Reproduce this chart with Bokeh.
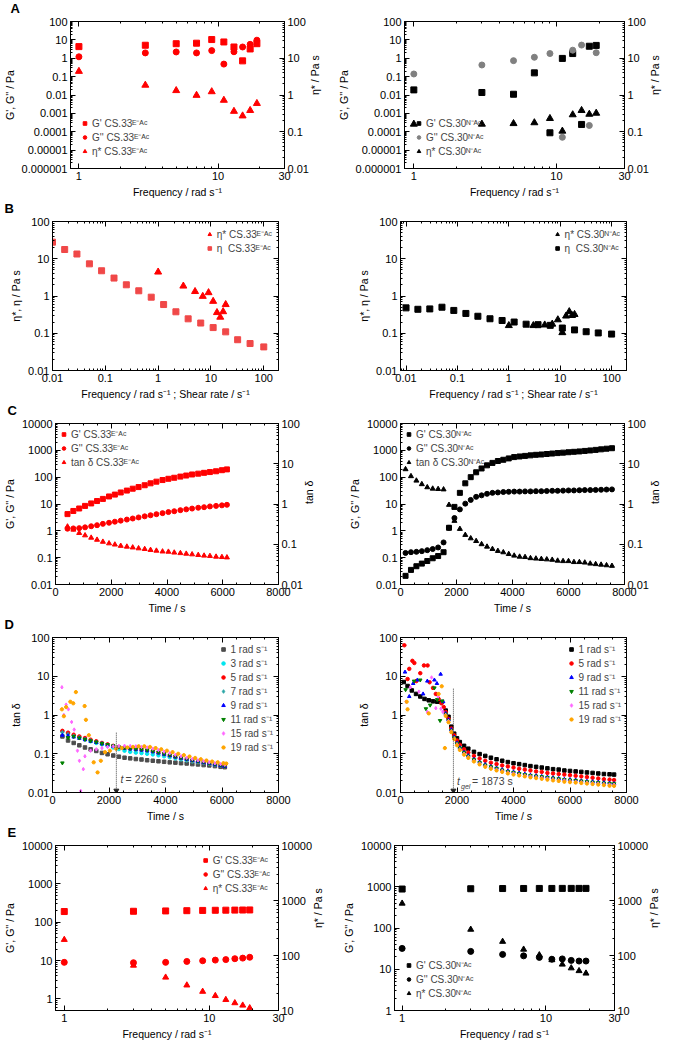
import math
from bokeh.plotting import figure
from bokeh.models import (Range1d, LogScale, LogAxis, LinearAxis, FixedTicker,
                          CustomJSTickFormatter, Legend, LegendItem, Label)
from bokeh.layouts import row, column
from bokeh.embed import file_html
from bokeh.resources import INLINE

try:
    from bokeh.models import CustomLabelingPolicy
    HIDE_POLICY = True
except ImportError:
    HIDE_POLICY = False

FONT = "Liberation Sans"
SUP33 = "ᴱ⁻ᴬᶜ"
SUP30 = "ᴺ⁻ᴬᶜ"

# ---------------- data ----------------
freq = [1, 3, 5, 7, 9, 11, 13, 15, 17, 19]

# A
G1_A33 = [4.3, 5.1, 6.2, 6.6, 10.4, 7.7, 4.1, 0.72, 3.2, 6.2]
G2_A33 = [1.2, 1.95, 2.2, 1.95, 2.6, 0.48, 2.26, 4.1, 5.7, 9.6]
eta_33 = [4.4, 1.85, 1.32, 0.98, 1.23, 0.72, 0.36, 0.27, 0.38, 0.59]
G1_A30 = [0.019, 0.0137, 0.011, 0.16, 8.8e-5, 0.98, 1.8, 2.5e-4, 4.5, 5.0]
G2_A30 = [0.139, 0.43, 0.74, 1.13, 1.8, 5e-5, 2.75, 5.2, 2.2e-4, 2.0]
eta_30 = [0.161, 0.161, 0.167, 0.176, 0.23, 0.104, 0.29, 0.38, 0.30, 0.32]

# B
shear = [0.01, 0.017, 0.029, 0.05, 0.085, 0.146, 0.25, 0.43, 0.74, 1.27, 2.17,
         3.7, 6.4, 11, 19, 32, 55, 100]
eta_shear_33 = [27.9, 17.7, 13.4, 7.3, 4.76, 3.03, 2.0, 1.38, 0.93, 0.59, 0.377,
                0.244, 0.188, 0.142, 0.109, 0.067, 0.053, 0.043]
eta_shear_30 = [0.48, 0.44, 0.45, 0.50, 0.41, 0.34, 0.286, 0.245, 0.22, 0.20,
                0.175, 0.17, 0.163, 0.138, 0.123, 0.11, 0.102, 0.095]

# C
t_C33 = [430, 640, 850, 1060, 1280, 1490, 1700, 1920, 2130, 2340, 2560, 2770,
         2980, 3200, 3410, 3620, 3840, 4050, 4260, 4480, 4690, 4900, 5120, 5330,
         5540, 5760, 5970, 6150]
G1_C33 = [4.2, 5.5, 6.8, 8.5, 10.5, 12.9, 15.5, 19.1, 22.4, 26.9, 31.6, 37.2,
          42.7, 50, 59, 68, 78, 87, 95, 105, 115, 126, 135, 145, 155, 166, 182, 195]
G2_C33 = [1.2, 1.23, 1.26, 1.35, 1.48, 1.62, 1.82, 2.0, 2.19, 2.4, 2.63, 2.88,
          3.16, 3.47, 3.8, 4.17, 4.57, 5.0, 5.37, 5.89, 6.31, 6.76, 7.24, 7.59,
          8.13, 8.51, 8.91, 9.33]
tan_C33 = [0.275, 0.23, 0.19, 0.166, 0.145, 0.129, 0.115, 0.105, 0.098, 0.091,
           0.087, 0.083, 0.079, 0.076, 0.072, 0.069, 0.066, 0.065, 0.062, 0.060,
           0.058, 0.056, 0.054, 0.052, 0.051, 0.049, 0.048, 0.047]

t_C30 = [180, 374, 568, 762, 956, 1150, 1344, 1538, 1732, 1926, 2120, 2314, 2508,
         2702, 2896, 3090, 3284, 3478, 3672, 3866, 4060, 4254, 4448, 4642, 4836,
         5030, 5224, 5418, 5612, 5806, 6000, 6194, 6388, 6582, 6776, 6970, 7164,
         7358, 7552]
G1_C30 = [0.021, 0.035, 0.048, 0.06, 0.075, 0.095, 0.115, 0.16,
          1.3, 7.8, 26, 59, 100, 152, 211, 276, 340, 400, 445, 500, 560,
          590, 620, 650, 680, 700, 730, 760, 790, 820, 850, 880, 910, 950, 990,
          1040, 1090, 1150, 1200]
G2_C30 = [0.15, 0.16, 0.165, 0.175, 0.19, 0.21, 0.24, 0.37,
          1.3, 3.0, 6.3, 10.3, 14.2, 18.5, 21, 24, 26, 27, 28, 28.5, 29,
          29, 29.5, 29.5, 30, 30, 30.5, 31, 31, 31.5, 32, 32, 32.5, 33, 33,
          33.5, 34, 34.5, 35]
tan_C30 = [7.3, 4.9, 3.8, 3.1, 2.6, 2.4, 2.35, 2.3,
           0.95, 0.38, 0.24, 0.17, 0.14, 0.12, 0.1, 0.087, 0.076, 0.068, 0.063,
           0.057, 0.052,
           0.049, 0.048, 0.045, 0.044, 0.043, 0.042, 0.041, 0.039, 0.038, 0.038,
           0.036, 0.036, 0.035, 0.033, 0.032, 0.031, 0.030, 0.029]

# D (CS.33)
t_D33 = [350, 550, 750, 950, 1150, 1350, 1550, 1750, 1950, 2150, 2350, 2550,
         2750, 2950, 3150, 3350, 3550, 3750, 3950, 4150, 4350, 4550, 4750, 4950,
         5150, 5350, 5550, 5750, 5950, 6100]
tan_D33_1 = [0.28, 0.22, 0.19, 0.165, 0.145, 0.13, 0.118, 0.105, 0.097, 0.09,
             0.084, 0.079, 0.076, 0.073, 0.071, 0.068, 0.066, 0.064, 0.062, 0.060,
             0.059, 0.057, 0.056, 0.054, 0.053, 0.051, 0.050, 0.048, 0.046, 0.045]
tan_D33_3 = [0.37, 0.33, 0.29, 0.26, 0.235, 0.21, 0.19, 0.175, 0.16, 0.145,
             0.132, 0.12, 0.112, 0.107, 0.104, 0.1, 0.096, 0.091, 0.086, 0.081,
             0.076, 0.072, 0.068, 0.064, 0.061, 0.058, 0.055, 0.052, 0.05, 0.049]
tan_D33_5 = [0.39, 0.35, 0.31, 0.28, 0.255, 0.23, 0.21, 0.19, 0.175, 0.16,
             0.15, 0.142, 0.136, 0.132, 0.128, 0.124, 0.116, 0.107, 0.098, 0.09,
             0.083, 0.077, 0.072, 0.067, 0.063, 0.059, 0.056, 0.053, 0.05, 0.048]
tan_D33_7 = [0.36, 0.32, 0.29, 0.265, 0.24, 0.22, 0.2, 0.185, 0.17, 0.157,
             0.147, 0.14, 0.134, 0.13, 0.126, 0.12, 0.112, 0.104, 0.096, 0.089,
             0.082, 0.076, 0.071, 0.066, 0.062, 0.058, 0.055, 0.052, 0.049, 0.047]
tan_D33_9 = [0.3, 0.29, 0.27, 0.25, 0.23, 0.21, 0.195, 0.18, 0.168, 0.156,
             0.146, 0.139, 0.133, 0.128, 0.124, 0.119, 0.113, 0.105, 0.097, 0.09,
             0.083, 0.077, 0.072, 0.067, 0.063, 0.059, 0.056, 0.052, 0.049, 0.047]
tan_D33_11 = [0.058, 0.26, 0.28, 0.255, 0.235, 0.215, 0.2, 0.185, 0.172, 0.16,
              0.15, 0.143, 0.138, 0.134, 0.13, 0.125, 0.118, 0.11, 0.101, 0.093,
              0.086, 0.08, 0.074, 0.069, 0.065, 0.061, 0.057, 0.054, 0.051, 0.049]
t_D33_15 = [333, 402, 482, 563, 677, 769, 884, 953, 999, 1091, 1148, 1350, 1550,
            1750, 1950, 2150, 2350, 2550, 2750, 2950, 3150, 3350, 3550, 3750,
            3950, 4150, 4350, 4550, 4750, 4950, 5150, 5350, 5550, 5750, 5950, 6100]
tan_D33_15 = [5.2, 1.0, 1.85, 1.4, 0.66, 0.42, 0.12, 0.066, 0.011, 0.04, 0.086,
              0.12, 0.13, 0.14, 0.15, 0.155, 0.158, 0.16, 0.158, 0.155, 0.15,
              0.145, 0.135, 0.125, 0.113, 0.103, 0.094, 0.086, 0.079, 0.073,
              0.068, 0.064, 0.06, 0.057, 0.054, 0.052]
t_D33_19 = [333, 402, 482, 631, 735, 827, 1137, 1183, 1286, 1458, 1596, 1711,
            1860, 2032, 2250, 2450, 2650, 2850, 3050, 3250, 3450, 3650, 3850,
            4050, 4250, 4450, 4650, 4850, 5050, 5250, 5450, 5650, 5850, 6050, 6150]
tan_D33_19 = [1.4, 0.93, 1.6, 2.2, 2.0, 3.9, 1.7, 0.75, 0.3, 0.06, 0.033, 0.066,
              0.11, 0.12, 0.135, 0.14, 0.145, 0.15, 0.155, 0.155, 0.15, 0.14,
              0.13, 0.12, 0.11, 0.1, 0.092, 0.085, 0.078, 0.072, 0.067, 0.063,
              0.06, 0.057, 0.056]
t_gel_33 = 2260

# D (CS.30)
t_D30_late = [1600, 1700, 1800, 1900, 2000, 2100, 2250, 2400, 2600, 2800, 3000,
              3200, 3400, 3600, 3800, 4000, 4200, 4400, 4600, 4800, 5000, 5200,
              5400, 5600, 5800, 6000, 6200, 6400, 6600, 6800, 7000, 7200, 7400, 7560]
t_D30_1_early = [115, 250, 400, 550, 700, 850, 1000, 1150, 1300, 1450]
tan_D30_1_early = [7.1, 5.6, 4.3, 3.5, 3.0, 2.6, 2.4, 2.25, 2.2, 2.15]
tan_D30_1_late = [1.3, 0.9, 0.5, 0.33, 0.25, 0.2, 0.16, 0.135, 0.112, 0.098,
                  0.088, 0.079, 0.072, 0.066, 0.061, 0.057, 0.054, 0.051, 0.048,
                  0.046, 0.044, 0.042, 0.040, 0.039, 0.037, 0.036, 0.035, 0.034,
                  0.033, 0.032, 0.031, 0.030, 0.0295, 0.029]
t_D30_5_early = [137, 250, 310, 420, 490, 560, 700, 830, 960, 1030, 1150, 1250,
                 1350, 1450, 1530]
tan_D30_5_early = [63, 8.5, 15.5, 25, 22, 7.5, 12, 19, 19, 7.0, 5.0, 3.5, 2.6,
                   2.0, 1.6]
tan_D30_5_late = [1.2, 0.8, 0.45, 0.3, 0.22, 0.17, 0.13, 0.108, 0.088, 0.075,
                  0.066, 0.059, 0.054, 0.05, 0.047, 0.044, 0.041, 0.039, 0.037,
                  0.035, 0.034, 0.032, 0.031, 0.03, 0.029, 0.028, 0.027, 0.026,
                  0.025, 0.024, 0.023, 0.022, 0.0215, 0.021]
t_D30_9_early = [160, 310, 450, 600, 800, 950, 1200, 1290, 1420, 1510]
tan_D30_9_early = [12.8, 3.0, 6.5, 8.0, 3.5, 7.5, 8.0, 6.5, 11.3, 2.2]
tan_D30_9_late = [1.1, 0.75, 0.42, 0.27, 0.19, 0.145, 0.11, 0.09, 0.072, 0.061,
                  0.053, 0.047, 0.043, 0.039, 0.036, 0.034, 0.032, 0.030, 0.028,
                  0.027, 0.026, 0.025, 0.024, 0.023, 0.022, 0.0215, 0.021, 0.020,
                  0.0195, 0.019, 0.0185, 0.018, 0.0175, 0.017]
t_D30_11_early = [180, 480, 700, 900, 1050, 1200, 1300, 1400, 1480]
tan_D30_11_early = [4.5, 7.5, 8.0, 1.45, 1.8, 5.0, 2.5, 0.72, 2.3]
tan_D30_11_late = [1.05, 0.72, 0.4, 0.26, 0.185, 0.14, 0.106, 0.087, 0.07, 0.059,
                   0.051, 0.046, 0.042, 0.038, 0.035, 0.033, 0.031, 0.029, 0.0275,
                   0.0265, 0.0255, 0.0245, 0.0235, 0.0225, 0.0215, 0.021, 0.0205,
                   0.0198, 0.019, 0.0185, 0.018, 0.0175, 0.017, 0.0168]
t_D30_15_early = [200, 350, 650, 950, 1100, 1250, 1330, 1430, 1500]
tan_D30_15_early = [2.2, 5.2, 4.0, 1.2, 9.3, 1.5, 3.0, 1.45, 1.2]
tan_D30_15_late = [1.0, 0.7, 0.38, 0.25, 0.175, 0.13, 0.1, 0.082, 0.066, 0.056,
                   0.048, 0.043, 0.039, 0.036, 0.033, 0.031, 0.029, 0.0275, 0.026,
                   0.025, 0.024, 0.023, 0.022, 0.021, 0.0205, 0.0198, 0.019,
                   0.0185, 0.018, 0.0175, 0.017, 0.0165, 0.016, 0.0158]
t_D30_19_early = [220, 250, 1000, 1350, 1460, 1570]
tan_D30_19_early = [2.2, 1.4, 1.1, 3.5, 5.5, 0.14]
tan_D30_19_late = [0.95, 0.65, 0.36, 0.24, 0.165, 0.125, 0.095, 0.078, 0.063,
                   0.053, 0.046, 0.041, 0.037, 0.034, 0.031, 0.029, 0.0275, 0.026,
                   0.0245, 0.0235, 0.0225, 0.0215, 0.0205, 0.0198, 0.019, 0.0185,
                   0.018, 0.0175, 0.017, 0.0165, 0.016, 0.0155, 0.015, 0.0148]
t_gel_30 = 1873

# E
G1_E33 = [190, 193, 197, 200, 203, 205, 206, 207, 208, 209]
G2_E33 = [9.0, 8.8, 9.0, 9.5, 9.9, 10.3, 10.6, 11.2, 11.6, 12.2]
eta_E33 = [194, 66, 40, 28.8, 22.1, 18.5, 15.7, 13.7, 12.4, 11.1]
G1_E30 = [880, 895, 905, 908, 910, 910, 912, 912, 912, 912]
G2_E30 = [32, 27.1, 22.9, 21.1, 19.4, 17.5, 17.8, 16.4, 15.8, 15.8]
eta_E30 = [885, 297, 179, 129, 102, 83, 69, 59, 52.5, 47.4]

RED = "#ff0000"
BLACK = "#000000"
GREY = "#808080"


# ---------------- helpers ----------------
def log_fmt():
    return CustomJSTickFormatter(code="""
        if (tick >= 1) { return String(Math.round(tick)); }
        return String(Number(tick.toPrecision(1)));
    """)


def decade_ticker(lo, hi):
    major = [10.0 ** k for k in range(lo, hi + 1)]
    minor = [m * 10.0 ** k for k in range(lo - 1, hi + 1) for m in range(2, 10)]
    return FixedTicker(ticks=major, minor_ticks=minor)


def freq_ticker():
    return FixedTicker(ticks=[1, 10, 30], minor_ticks=[2, 3, 4, 5, 6, 7, 8, 9, 20])


def time_ticker():
    return FixedTicker(ticks=[0, 2000, 4000, 6000, 8000],
                       minor_ticks=list(range(0, 8001, 500)))


def style_axis(ax):
    ax.axis_line_color = "black"
    ax.major_tick_line_color = "black"
    ax.minor_tick_line_color = "black"
    ax.major_tick_in = 5
    ax.major_tick_out = 0
    ax.minor_tick_in = 2
    ax.minor_tick_out = 0
    ax.major_label_text_font = FONT
    ax.major_label_text_font_size = "11px"
    ax.major_label_text_color = "black"
    ax.axis_label_text_font = FONT
    ax.axis_label_text_font_size = "10.5px"
    ax.axis_label_text_font_style = "normal"
    ax.axis_label_text_color = "black"
    ax.major_label_standoff = 3
    ax.axis_label_standoff = 3


def mirror_axis(p, side, log, ticker):
    """Tick-only axis on the top/right edge (labels suppressed)."""
    if not HIDE_POLICY:
        return
    ax = (LogAxis if log else LinearAxis)(ticker=ticker)
    if log:
        ax.formatter = log_fmt()
    style_axis(ax)
    ax.major_label_text_font_size = "1px"
    ax.major_label_standoff = 0
    ax.major_label_policy = CustomLabelingPolicy(code="return new Set()")
    p.add_layout(ax, side)


def make_panel(w, h, borders, xr, yr, xlog, ylog, xtk, ytk, xlabel, ylabel, right=None):
    p = figure(width=w, height=h, x_range=Range1d(*xr), y_range=Range1d(*yr),
               x_axis_type="log" if xlog else "linear",
               y_axis_type="log" if ylog else "linear",
               output_backend="svg", toolbar_location=None,
               min_border_left=borders[0], min_border_right=borders[1],
               min_border_top=borders[2], min_border_bottom=borders[3])
    p.xgrid.visible = False
    p.ygrid.visible = False
    p.outline_line_color = "black"
    p.background_fill_color = "white"
    p.border_fill_color = "white"
    xa = p.xaxis[0]
    ya = p.yaxis[0]
    xa.ticker = xtk
    ya.ticker = ytk
    if xlog:
        xa.formatter = log_fmt()
    if ylog:
        ya.formatter = log_fmt()
    style_axis(xa)
    style_axis(ya)
    xa.axis_label = xlabel
    ya.axis_label = ylabel
    mirror_axis(p, "above", xlog, xtk)
    if right is not None:
        rr, rtk, rlabel = right
        p.extra_y_ranges = {"r": Range1d(*rr)}
        p.extra_y_scales = {"r": LogScale()}
        ra = LogAxis(y_range_name="r", ticker=rtk, formatter=log_fmt())
        style_axis(ra)
        ra.axis_label = rlabel
        if "axis_label_orientation" in ra.properties():
            ra.axis_label_orientation = math.pi / 2
        p.add_layout(ra, "right")
    else:
        mirror_axis(p, "right", ylog, ytk)
    return p


def add_legend(p, items, loc, margin=6, size="10px", height=10):
    leg = Legend(items=[LegendItem(label=l, renderers=[r]) for l, r in items],
                 location=loc)
    leg.border_line_color = None
    leg.background_fill_alpha = 0
    leg.label_text_font = FONT
    leg.label_text_font_size = size
    leg.label_height = height
    leg.glyph_height = height
    leg.glyph_width = 9
    leg.spacing = 0
    leg.padding = 2
    leg.margin = margin
    leg.label_standoff = 3
    p.add_layout(leg)


def add_letter(p, text, frame_left):
    p.title.text = text
    p.title.align = "left"
    p.title.offset = -(frame_left - 4)
    p.title.standoff = 0
    p.title.vertical_align = "top"
    p.title.text_font = FONT
    p.title.text_font_size = "13px"
    p.title.text_font_style = "bold"
    p.title.text_color = "black"


WL, WR = 334, 335
BL_L, BR_L = 52, 56
BL_R, BR_R = 66, 43
FREQ_X = (0.87, 30)
FREQ_LABEL = "Frequency / rad s⁻¹"

# ---------------- row A ----------------
hA, btA, bbA = 200, 17, 30
pA1 = make_panel(WL, hA, (64, 50, btA, bbA), FREQ_X, (1e-6, 100), True, True,
                 freq_ticker(), decade_ticker(-6, 2), FREQ_LABEL, "G', G'' / Pa",
                 right=((0.01, 100), decade_ticker(-2, 2), "η* / Pa s"))
r1 = pA1.scatter(freq, G1_A33, marker="square", size=6, color=RED)
r2 = pA1.scatter(freq, G2_A33, marker="circle", size=6, color=RED)
r3 = pA1.scatter(freq, eta_33, marker="triangle", size=7, color=RED, y_range_name="r")
add_legend(pA1, [("G' CS.33" + SUP33, r1), ("G'' CS.33" + SUP33, r2),
                 ("η* CS.33" + SUP33, r3)], "bottom_left", margin=10)
add_letter(pA1, "A", 64)

pA2 = make_panel(WR, hA, (BL_R, BR_R, btA, bbA), (0.86, 30), (1e-6, 100), True, True,
                 freq_ticker(), decade_ticker(-6, 2), FREQ_LABEL, "G', G'' / Pa",
                 right=((0.01, 100), decade_ticker(-2, 2), "η* / Pa s"))
s1 = pA2.scatter(freq, G1_A30, marker="square", size=6, color=BLACK)
s2 = pA2.scatter(freq, G2_A30, marker="circle", size=6, color=GREY)
s3 = pA2.scatter(freq, eta_30, marker="triangle", size=7, color=BLACK, y_range_name="r")
add_legend(pA2, [("G' CS.30" + SUP30, s1), ("G'' CS.30" + SUP30, s2),
                 ("η* CS.30" + SUP30, s3)], "bottom_left", margin=10)

# ---------------- row B ----------------
hB, btB, bbB = 202, 17, 30
B_LABEL = "Frequency / rad s⁻¹ ; Shear rate / s⁻¹"
pB1 = make_panel(WL, hB, (BL_L, BR_L, btB, bbB), (0.01, 190), (0.01, 100), True, True,
                 decade_ticker(-2, 2), decade_ticker(-2, 2), B_LABEL, "η*, η / Pa s")
b1 = pB1.scatter(freq, eta_33, marker="triangle", size=7, color=RED)
b2 = pB1.scatter(shear, eta_shear_33, marker="square", size=6, color="#f04848")
add_legend(pB1, [("η* CS.33" + SUP33, b1), ("η  CS.33" + SUP33, b2)], "top_right", margin=6)
add_letter(pB1, "B", BL_L)

pB2 = make_panel(WR, hB, (BL_R, BR_R, btB, bbB), (0.0078, 195), (0.01, 100), True, True,
                 decade_ticker(-2, 2), decade_ticker(-2, 2), B_LABEL, "η*, η / Pa s")
c1 = pB2.scatter(freq, eta_30, marker="triangle", size=7, color=BLACK)
c2 = pB2.scatter(shear, eta_shear_30, marker="square", size=6, color=BLACK)
add_legend(pB2, [("η* CS.30" + SUP30, c1), ("η  CS.30" + SUP30, c2)], "top_right", margin=6)

# ---------------- row C ----------------
hC, btC, bbC = 214, 19, 28
pC1 = make_panel(WL, hC, (BL_L, BR_L, btC, bbC), (0, 8000), (0.01, 10000), False, True,
                 time_ticker(), decade_ticker(-2, 4), "Time / s", "G', G'' / Pa",
                 right=((0.01, 100), decade_ticker(-2, 2), "tan δ"))
d1 = pC1.scatter(t_C33, G1_C33, marker="square", size=5, color=RED)
d2 = pC1.scatter(t_C33, G2_C33, marker="circle", size=5, color=RED)
d3 = pC1.scatter(t_C33, tan_C33, marker="triangle", size=5, color=RED, y_range_name="r")
add_legend(pC1, [("G' CS.33" + SUP33, d1), ("G'' CS.33" + SUP33, d2),
                 ("tan δ CS.33" + SUP33, d3)], "top_left", margin=4)
add_letter(pC1, "C", BL_L)

pC2 = make_panel(WR, hC, (BL_R, BR_R, btC, bbC), (0, 8000), (0.01, 10000), False, True,
                 time_ticker(), decade_ticker(-2, 4), "Time / s", "G', G'' / Pa",
                 right=((0.01, 100), decade_ticker(-2, 2), "tan δ"))
e1 = pC2.scatter(t_C30, G1_C30, marker="square", size=5, color=BLACK)
e2 = pC2.scatter(t_C30, G2_C30, marker="circle", size=5, color=BLACK)
e3 = pC2.scatter(t_C30, tan_C30, marker="triangle", size=5, color=BLACK, y_range_name="r")
add_legend(pC2, [("G' CS.30" + SUP30, e1), ("G'' CS.30" + SUP30, e2),
                 ("tan δ CS.30" + SUP30, e3)], "top_left", margin=4)

# ---------------- row D ----------------
hD, btD, bbD = 208, 17, 30
SZ = 3.5
pD1 = make_panel(WL, hD, (BL_L, BR_L, btD, bbD), (0, 8000), (0.01, 100), False, True,
                 time_ticker(), decade_ticker(-2, 2), "Time / s", "tan δ")
D33 = [
    ("1 rad s⁻¹", t_D33, tan_D33_1, "square", "#4d4d4d"),
    ("3 rad s⁻¹", t_D33, tan_D33_3, "circle", "#00e5ee"),
    ("5 rad s⁻¹", t_D33, tan_D33_5, "circle", "#ff0000"),
    ("7 rad s⁻¹", t_D33, tan_D33_7, "diamond", "#2aa6a6"),
    ("9 rad s⁻¹", t_D33, tan_D33_9, "triangle", "#0000ff"),
    ("11 rad s⁻¹", t_D33, tan_D33_11, "inverted_triangle", "#008000"),
    ("15 rad s⁻¹", t_D33_15, tan_D33_15, "diamond", "#ff66ff"),
    ("19 rad s⁻¹", t_D33_19, tan_D33_19, "hex", "#ffa500"),
]
items = []
for lab, tx, ty, mk, col in D33:
    rr = pD1.scatter(tx, ty, marker=mk, size=SZ, color=col)
    items.append((lab, rr))
add_legend(pD1, items, "top_right", margin=5, size="10px", height=10)
pD1.segment(x0=[t_gel_33], y0=[0.0105], x1=[t_gel_33], y1=[0.36],
            line_color="#444444", line_dash="1 1", line_width=1)
pD1.scatter([t_gel_33], [0.0112], marker="inverted_triangle", size=5, color="#222222")
pD1.add_layout(Label(x=t_gel_33 + 150, y=0.016, text="t", text_font=FONT,
                     text_font_style="italic", text_font_size="10.5px"))
pD1.add_layout(Label(x=t_gel_33 + 150, y=0.016, x_offset=5, text=" = 2260 s",
                     text_font=FONT, text_font_size="10.5px"))
add_letter(pD1, "D", BL_L)

pD2 = make_panel(WR, hD, (BL_R, BR_R, btD, bbD), (0, 8000), (0.01, 100), False, True,
                 time_ticker(), decade_ticker(-2, 2), "Time / s", "tan δ")
D30 = [
    ("1 rad s⁻¹", t_D30_1_early, tan_D30_1_early, tan_D30_1_late, "square", "#000000"),
    ("5 rad s⁻¹", t_D30_5_early, tan_D30_5_early, tan_D30_5_late, "circle", "#ff0000"),
    ("9 rad s⁻¹", t_D30_9_early, tan_D30_9_early, tan_D30_9_late, "triangle", "#0000ff"),
    ("11 rad s⁻¹", t_D30_11_early, tan_D30_11_early, tan_D30_11_late, "inverted_triangle", "#008000"),
    ("15 rad s⁻¹", t_D30_15_early, tan_D30_15_early, tan_D30_15_late, "diamond", "#ff66ff"),
    ("19 rad s⁻¹", t_D30_19_early, tan_D30_19_early, tan_D30_19_late, "hex", "#ffa500"),
]
items = []
for lab, te, ve, vl, mk, col in D30:
    rr = pD2.scatter(te + t_D30_late, ve + vl, marker=mk, size=SZ, color=col)
    items.append((lab, rr))
add_legend(pD2, items, "top_right", margin=5, size="10px", height=10)
pD2.segment(x0=[t_gel_30], y0=[0.0105], x1=[t_gel_30], y1=[5.0],
            line_color="#444444", line_dash="1 1", line_width=1)
pD2.scatter([t_gel_30], [0.0112], marker="inverted_triangle", size=5, color="#222222")
pD2.add_layout(Label(x=t_gel_30 + 130, y=0.0135, text="t", text_font=FONT,
                     text_font_style="italic", text_font_size="10.5px"))
pD2.add_layout(Label(x=t_gel_30 + 130, y=0.0135, x_offset=4, y_offset=-3, text="gel",
                     text_font=FONT, text_font_style="italic", text_font_size="7px"))
pD2.add_layout(Label(x=t_gel_30 + 130, y=0.0135, x_offset=15, text=" = 1873 s",
                     text_font=FONT, text_font_size="10.5px"))

# ---------------- row E ----------------
hE, btE, bbE = 218, 17, 29
pE1 = make_panel(WL, hE, (BL_L, BR_L, btE, bbE), FREQ_X, (0.5, 10000), True, True,
                 freq_ticker(), decade_ticker(0, 4), FREQ_LABEL, "G', G'' / Pa",
                 right=((10, 10000), decade_ticker(1, 4), "η* / Pa s"))
f1 = pE1.scatter(freq, G1_E33, marker="square", size=6, color=RED)
f2 = pE1.scatter(freq, G2_E33, marker="circle", size=6, color=RED)
f3 = pE1.scatter(freq, eta_E33, marker="triangle", size=6, color=RED, y_range_name="r")
add_legend(pE1, [("G' CS.33" + SUP33, f1), ("G'' CS.33" + SUP33, f2),
                 ("η* CS.33" + SUP33, f3)], "top_right", margin=8)
add_letter(pE1, "E", BL_L)

pE2 = make_panel(WR, hE, (60, 49, btE, bbE), (0.885, 30), (1, 10000), True, True,
                 freq_ticker(), decade_ticker(0, 4), FREQ_LABEL, "G', G'' / Pa",
                 right=((10, 10000), decade_ticker(1, 4), "η* / Pa s"))
g1 = pE2.scatter(freq, G1_E30, marker="square", size=6, color=BLACK)
g2 = pE2.scatter(freq, G2_E30, marker="circle", size=6, color=BLACK)
g3 = pE2.scatter(freq, eta_E30, marker="triangle", size=6, color=BLACK, y_range_name="r")
add_legend(pE2, [("G' CS.30" + SUP30, g1), ("G'' CS.30" + SUP30, g2),
                 ("η* CS.30" + SUP30, g3)], "bottom_left", margin=10)

layout = column(row(pA1, pA2), row(pB1, pB2), row(pC1, pC2), row(pD1, pD2),
                row(pE1, pE2))

open("out.html", "w").write(file_html(layout, INLINE))
